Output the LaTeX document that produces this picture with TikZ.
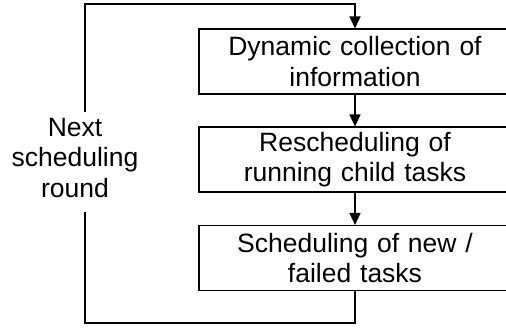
\documentclass[tikz,border=0pt]{standalone}
\usepackage{fontspec}
\setmainfont{Liberation Sans}
\usetikzlibrary{arrows.meta}
\begin{document}
\begin{tikzpicture}[x=1pt,y=-1pt,
  boxstyle/.style={draw=black,line width=1.1pt,minimum width=312pt,minimum height=65pt,
    text width=300pt,align=center,inner sep=0pt,font=\fontsize{26.5}{30.5}\selectfont},
  lbl/.style={align=center,inner sep=0pt,font=\fontsize{26.5}{30.5}\selectfont},
  conn/.style={line width=1.2pt,draw=black},
  arr/.style={conn,-{Triangle[length=12pt,width=11pt]}}]
\useasboundingbox (0,0) rectangle (506,327);
\clip (0,0) rectangle (506,327);
\node[boxstyle] (b1) at (355,61.5) {Dynamic collection of\\information};
\node[boxstyle] (b2) at (355,159.5) {Rescheduling of\\running child tasks};
\node[boxstyle] (b3) at (355,258) {Scheduling of new /\\failed tasks};
\node[lbl] (lab) at (75,158) {Next\\scheduling\\round};
\coordinate (bl) at (85,323);
\coordinate (gb) at (85,212);
\coordinate (gt) at (85,112);
\coordinate (tl) at (85,4);
\coordinate (tr) at (355,4);
\draw[arr] (b1.south) -- (b2.north);
\draw[arr] (b2.south) -- (b3.north);
\draw[conn] (b3.south) -- (b3.south |- bl) -- (bl) -- (gb);
\draw[arr] (gt) -- (tl) -- (tr) -- (b1.north);
\end{tikzpicture}
\end{document}
